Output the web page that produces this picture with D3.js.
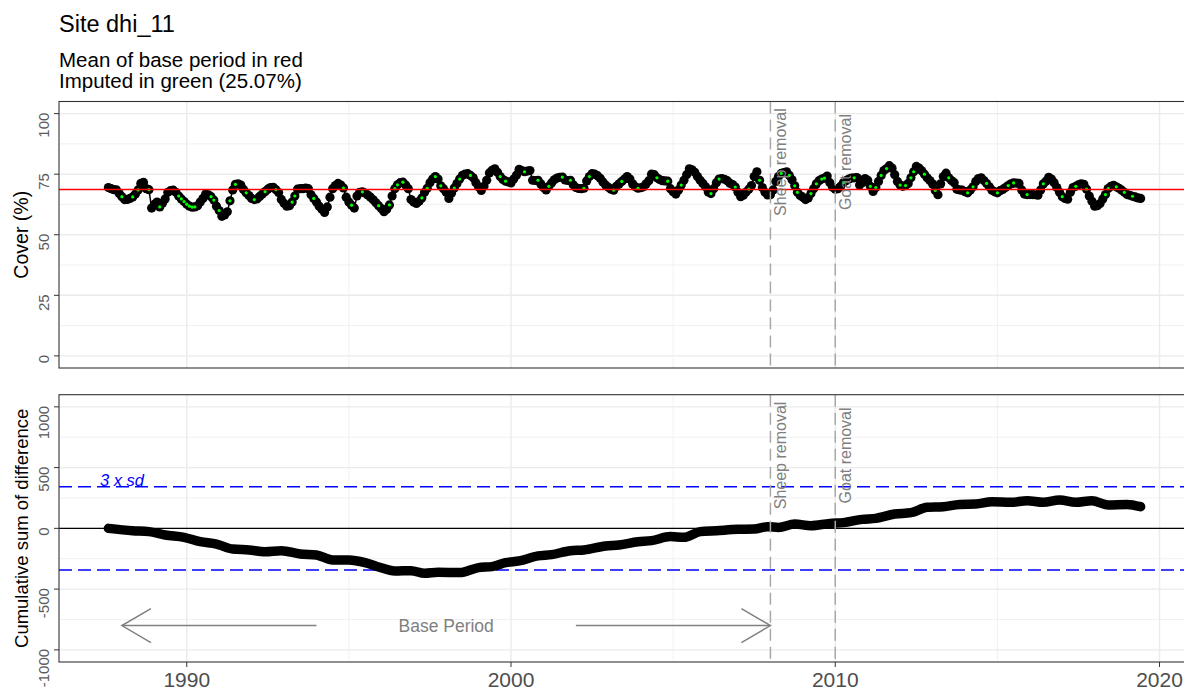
<!DOCTYPE html>
<html>
<head>
<meta charset="utf-8">
<script src="https://cdn.jsdelivr.net/npm/d3@7"></script>
<style>
  html, body { margin: 0; padding: 0; background: #fff; }
  svg { display: block; font-family: "Liberation Sans", Arial, sans-serif; }
</style>
</head>
<body>
<svg id="chart" width="1184" height="691"></svg>
<script>
// ---------------- data ----------------
const titleText = "Site dhi_11";
const subtitleLines = ["Mean of base period in red", "Imputed in green (25.07%)"];
const startYear = 1987, startMonth = 8; // first observation: Aug 1987, monthly
const cover = [
  69.5, 69.0, 68.6, 68.5, 67.0, 65.7, 64.5, 64.6, 65.0, 65.6, 66.8, 68.5,
  71.2, 71.6, 69.0, 68.6, 61.0, 62.5, 63.5, 61.5, 63.0, 64.8, 67.5, 68.2,
  68.4, 67.5, 66.0, 64.8, 63.7, 62.6, 61.8, 61.4, 61.5, 62.0, 63.5, 65.0,
  66.8, 66.5, 65.7, 64.3, 61.8, 60.0, 57.6, 58.2, 59.5, 64.0, 68.5, 70.8,
  71.0, 70.5, 68.7, 67.3, 66.2, 65.0, 64.5, 64.8, 65.8, 66.8, 67.8, 68.8,
  69.5, 69.6, 68.6, 67.4, 64.6, 63.0, 61.8, 62.0, 63.5, 66.0, 68.8, 69.0,
  69.0, 69.3, 69.0, 66.5, 65.0, 63.5, 61.8, 60.5, 59.2, 61.5, 65.5, 69.0,
  70.3, 71.2, 70.5, 69.3, 65.5, 63.5, 62.2, 61.0, 66.0, 67.5, 67.7, 67.2,
  66.4, 65.5, 64.4, 63.2, 62.0, 60.8, 59.5, 60.5, 62.3, 66.0, 69.0, 70.6,
  71.5, 71.7, 70.5, 69.0, 64.5, 63.5, 62.9, 63.8, 65.2, 67.5, 69.2, 71.5,
  73.0, 74.0, 73.0, 70.2, 69.0, 67.5, 65.0, 67.2, 69.3, 71.2, 73.0, 74.5,
  75.0, 75.2, 74.5, 73.5, 71.5, 69.8, 68.3, 70.0, 72.5, 75.5, 76.6, 77.2,
  75.8, 74.0, 72.8, 72.1, 71.8, 71.4, 73.0, 74.6, 77.0, 76.5, 76.0, 76.3,
  76.5, 72.5, 72.4, 72.5, 71.0, 69.5, 68.5, 70.0, 71.4, 72.7, 73.4, 73.7,
  73.8, 72.6, 72.4, 72.5, 70.6, 69.5, 69.1, 69.0, 69.2, 72.2, 74.0, 75.2,
  75.0, 74.4, 73.3, 71.8, 70.5, 69.6, 68.8, 68.4, 70.0, 71.0, 72.0, 73.0,
  74.0, 73.0, 71.0, 69.8, 69.2, 69.4, 69.8, 71.0, 72.3, 75.0, 74.8, 73.5,
  72.8, 72.3, 72.2, 72.1, 69.0, 67.7, 66.8, 68.5, 70.5, 72.5, 74.8, 77.2,
  76.8, 75.8, 74.0, 72.5, 71.2, 69.8, 67.6, 67.0, 69.0, 71.5, 73.0, 73.2,
  72.9, 72.3, 71.3, 70.7, 69.7, 67.5, 65.7, 66.3, 67.6, 68.8, 70.3, 74.0,
  76.0, 72.5, 69.5, 67.5, 66.4, 66.5, 68.5, 72.0, 74.0, 75.3, 75.7, 76.0,
  74.5, 72.7, 70.2, 67.5, 66.2, 65.5, 64.5, 65.2, 67.0, 69.0, 71.0, 72.3,
  73.0, 73.4, 74.2, 71.5, 69.6, 68.8, 69.0, 70.0, 71.5, 72.3, 73.0, 73.4,
  73.5, 73.6, 70.5, 71.5, 73.2, 72.5, 70.0, 67.9, 69.5, 72.0, 74.5, 76.5,
  77.3, 78.5, 77.5, 74.8, 72.0, 70.5, 70.0, 70.3, 71.2, 73.5, 76.0, 78.2,
  77.5, 76.4, 75.0, 73.5, 72.4, 71.0, 68.3, 66.5, 71.0, 74.0, 75.4, 73.5,
  72.4, 71.5, 68.8, 68.5, 68.4, 67.8, 67.3, 68.5, 69.8, 72.0, 73.2, 73.5,
  72.4, 71.2, 69.8, 68.4, 67.7, 67.3, 68.2, 68.7, 69.5, 70.3, 71.0, 71.4,
  71.3, 71.2, 68.5, 66.8, 66.6, 66.6, 66.6, 66.5, 66.3, 68.5, 71.0, 72.1,
  73.7, 73.0, 71.5, 69.5, 67.5, 65.7, 65.0, 64.7, 67.5, 69.5, 70.0, 70.6,
  71.0, 70.8, 68.8, 66.0, 63.8, 61.8, 62.0, 62.9, 64.8, 66.6, 69.1, 70.0,
  70.4, 69.8, 69.2, 68.4, 67.5, 66.6, 66.3, 65.9, 65.6, 65.2, 65.0
];
const imputedIdx = [5, 9, 11, 15, 19, 26, 27, 28, 29, 30, 31, 32, 38, 39, 41, 45, 47,
  51, 54, 58, 62, 68, 69, 76, 87, 90, 94, 100, 104, 106, 107, 109, 116, 118, 121, 123,
  128, 130, 134, 145, 147, 154, 159, 163, 168, 171, 176, 178, 187, 190, 196, 203, 207,
  212, 223, 226, 232, 237, 241, 249, 252, 254, 255, 260, 262, 264, 265, 272, 276, 282,
  284, 286, 288, 293, 295, 297, 298, 302, 306, 311, 318, 320, 325, 329, 333, 335, 340,
  346, 353, 358, 362, 369, 370, 373, 376, 379];
const baseMean = 68.7;
const sdLimit = 343;          // 3 x sd
const cusumIdx = [0, 9, 15, 21, 28, 34, 40, 46, 52, 58, 64, 71, 77, 83, 89, 95, 100, 106,
  112, 117, 122, 130, 137, 142, 147, 152, 159, 164, 171, 176, 184, 189, 196, 201, 208,
  213, 219, 225, 233, 239, 244, 248, 254, 260, 267, 272, 279, 284, 291, 297, 303, 309,
  315, 321, 327, 334, 340, 346, 352, 358, 364, 370, 377, 382];
const cusumVal = [0, -19, -27, -55, -74, -110, -129, -170, -178, -192, -184, -211, -219,
  -260, -260, -282, -318, -351, -348, -370, -362, -364, -323, -315, -282, -268, -227,
  -216, -184, -178, -145, -137, -110, -101, -68, -74, -27, -19, -8, -5, 14, 8, 36, 22,
  41, 47, 74, 82, 118, 129, 173, 178, 197, 200, 219, 214, 227, 214, 233, 214, 227, 192,
  197, 178];
const eventYears = [2008, 2010];
const eventLabels = ["Sheep removal", "Goat removal"];
const xTicks = [1990, 2000, 2010, 2020];
const xMinor = [1995, 2005, 2015];
const topTicks = [0, 25, 50, 75, 100];
const topMinor = [12.5, 37.5, 62.5, 87.5];
const botTicks = [-1000, -500, 0, 500, 1000];
const botMinor = [-750, -250, 250, 750];
const baseStart = 1988, baseEnd = 2008;
const baseLabel = "Base Period";
const baseLabelYear = 1998, baseArrowY = -800;
const leftArrowFrom = 1994, rightArrowFrom = 2002;
const sdLabel = "3 x sd";

// ---------------- layout ----------------
const svg = d3.select("#chart");
const W = 1184, H = 691;
svg.append("rect").attr("width", W).attr("height", H).attr("fill", "#fff");

const px0 = 59, px1 = 1190;
const panelT = {y0: 101.5, y1: 368};
const panelB = {y0: 394.7, y1: 662};

const x = d3.scaleLinear().domain([1986.06, 2020.94]).range([px0, px1]);
const yT = d3.scaleLinear().domain([-5, 105]).range([panelT.y1, panelT.y0]);
const yB = d3.scaleLinear().domain([-1100, 1100]).range([panelB.y1, panelB.y0]);

const tOf = i => startYear + (startMonth - 1 + i) / 12;
const pts = cover.map((v, i) => ({t: tOf(i), v, i}));
const impSet = new Set(imputedIdx);

const defs = svg.append("defs");
defs.append("clipPath").attr("id", "clipT").append("rect")
  .attr("x", px0).attr("y", panelT.y0).attr("width", px1 - px0).attr("height", panelT.y1 - panelT.y0);
defs.append("clipPath").attr("id", "clipB").append("rect")
  .attr("x", px0).attr("y", panelB.y0).attr("width", px1 - px0).attr("height", panelB.y1 - panelB.y0);

function grid(g, y, majors, minors, p) {
  g.selectAll(".gminY").data(minors).join("line")
    .attr("x1", px0).attr("x2", px1).attr("y1", d => y(d)).attr("y2", d => y(d))
    .attr("stroke", "#ebebeb").attr("stroke-width", 0.7);
  g.selectAll(".gminX").data(xMinor).join("line")
    .attr("x1", d => x(d)).attr("x2", d => x(d)).attr("y1", p.y0).attr("y2", p.y1)
    .attr("stroke", "#ebebeb").attr("stroke-width", 0.7);
  g.selectAll(".gmajY").data(majors).join("line")
    .attr("x1", px0).attr("x2", px1).attr("y1", d => y(d)).attr("y2", d => y(d))
    .attr("stroke", "#ebebeb").attr("stroke-width", 1.4);
  g.selectAll(".gmajX").data(xTicks).join("line")
    .attr("x1", d => x(d)).attr("x2", d => x(d)).attr("y1", p.y0).attr("y2", p.y1)
    .attr("stroke", "#ebebeb").attr("stroke-width", 1.4);
}

function yAxis(y, ticks) {
  const g = svg.append("g");
  g.selectAll("line").data(ticks).join("line")
    .attr("x1", px0 - 5).attr("x2", px0).attr("y1", d => y(d)).attr("y2", d => y(d))
    .attr("stroke", "#333").attr("stroke-width", 1);
  g.selectAll("text").data(ticks).join("text")
    .attr("transform", d => `translate(${48.5},${y(d) - 1}) rotate(-90)`)
    .attr("text-anchor", "end")
    .attr("font-size", 15).attr("fill", "#5a5a5a")
    .text(d => d);
}

function eventLines(g, p, ly) {
  eventYears.forEach((yr, k) => {
    g.append("line").attr("x1", x(yr)).attr("x2", x(yr)).attr("y1", p.y0).attr("y2", p.y1)
      .attr("stroke", "#a8a8a8").attr("stroke-width", 1.5).attr("stroke-dasharray", "12,6");
    g.append("text")
      .attr("transform", `translate(${x(yr) + 16},${ly}) rotate(-90)`)
      .attr("text-anchor", "middle").attr("font-size", 16).attr("fill", "#808080")
      .text(eventLabels[k]);
  });
}

// ---------------- top panel ----------------
const gT = svg.append("g");
grid(gT, yT, topTicks, topMinor, panelT);
const gTd = svg.append("g").attr("clip-path", "url(#clipT)");
gTd.append("path").datum(pts)
  .attr("d", d3.line().x(d => x(d.t)).y(d => yT(d.v)))
  .attr("fill", "none").attr("stroke", "#000").attr("stroke-width", 1.5);
gTd.selectAll(".pt").data(pts).join("circle")
  .attr("cx", d => x(d.t)).attr("cy", d => yT(d.v)).attr("r", 4.6).attr("fill", "#000");
gTd.selectAll(".imp").data(pts.filter(d => impSet.has(d.i))).join("circle")
  .attr("cx", d => x(d.t)).attr("cy", d => yT(d.v)).attr("r", 1.6).attr("fill", "#00ff00");
gTd.append("line").attr("x1", px0).attr("x2", px1).attr("y1", yT(baseMean)).attr("y2", yT(baseMean))
  .attr("stroke", "#ff0000").attr("stroke-width", 1.6);
eventLines(gTd, panelT, yT(80));
svg.append("rect").attr("x", px0).attr("y", panelT.y0).attr("width", px1 - px0).attr("height", panelT.y1 - panelT.y0)
  .attr("fill", "none").attr("stroke", "#333").attr("stroke-width", 1.1);
yAxis(yT, topTicks);

// ---------------- bottom panel ----------------
const gB = svg.append("g");
grid(gB, yB, botTicks, botMinor, panelB);
const gBd = svg.append("g").attr("clip-path", "url(#clipB)");
gBd.append("line").attr("x1", px0).attr("x2", px1).attr("y1", yB(0)).attr("y2", yB(0))
  .attr("stroke", "#000").attr("stroke-width", 1.3);
[sdLimit, -sdLimit].forEach(v => {
  gBd.append("line").attr("x1", px0).attr("x2", px1).attr("y1", yB(v)).attr("y2", yB(v))
    .attr("stroke", "#0000ff").attr("stroke-width", 1.6).attr("stroke-dasharray", "13,6");
});
const cus = cusumIdx.map((i, k) => ({t: tOf(i), c: cusumVal[k]}));
gBd.append("path").datum(cus)
  .attr("d", d3.line().curve(d3.curveMonotoneX).x(d => x(d.t)).y(d => yB(d.c)))
  .attr("fill", "none").attr("stroke", "#000").attr("stroke-width", 9.5)
  .attr("stroke-linecap", "round").attr("stroke-linejoin", "round");
eventLines(gBd, panelB, yB(600));
gBd.append("text").attr("x", x(1988)).attr("y", yB(sdLimit) - 1)
  .attr("text-anchor", "middle").attr("font-size", 16.5).attr("font-style", "italic")
  .attr("fill", "#0000ff").text(sdLabel);
function arrow(g, from, to) {
  const y = yB(baseArrowY), x0 = x(from), x1 = x(to);
  const dir = Math.sign(x1 - x0);
  g.append("line").attr("x1", x0).attr("x2", x1).attr("y1", y).attr("y2", y)
    .attr("stroke", "#808080").attr("stroke-width", 1.5);
  g.append("path")
    .attr("d", `M${x1 - dir * 29},${y - 17}L${x1},${y}L${x1 - dir * 29},${y + 17}`)
    .attr("fill", "none").attr("stroke", "#808080").attr("stroke-width", 1.5);
}
arrow(gBd, leftArrowFrom, baseStart);
arrow(gBd, rightArrowFrom, baseEnd);
gBd.append("text").attr("x", x(baseLabelYear)).attr("y", yB(baseArrowY) + 6.5)
  .attr("text-anchor", "middle").attr("font-size", 17.5).attr("fill", "#808080").text(baseLabel);
svg.append("rect").attr("x", px0).attr("y", panelB.y0).attr("width", px1 - px0).attr("height", panelB.y1 - panelB.y0)
  .attr("fill", "none").attr("stroke", "#333").attr("stroke-width", 1.1);
yAxis(yB, botTicks);

// x axis (bottom only)
const gx = svg.append("g");
gx.selectAll("line").data(xTicks).join("line")
  .attr("x1", d => x(d)).attr("x2", d => x(d)).attr("y1", panelB.y1).attr("y2", panelB.y1 + 5)
  .attr("stroke", "#333").attr("stroke-width", 1);
gx.selectAll("text").data(xTicks).join("text")
  .attr("x", d => x(d)).attr("y", 687)
  .attr("text-anchor", "middle").attr("font-size", 21).attr("fill", "#4d4d4d").text(d => d);

// axis titles
svg.append("text").attr("transform", `translate(28,${(panelT.y0 + panelT.y1) / 2}) rotate(-90)`)
  .attr("text-anchor", "middle").attr("font-size", 19.5).attr("fill", "#000").text("Cover (%)");
svg.append("text").attr("transform", `translate(28,${(panelB.y0 + panelB.y1) / 2}) rotate(-90)`)
  .attr("text-anchor", "middle").attr("font-size", 18.5).attr("fill", "#000").text("Cumulative sum of difference");

// titles
svg.append("text").attr("x", 59).attr("y", 32).attr("font-size", 23.5).attr("fill", "#000").text(titleText);
svg.selectAll(".sub").data(subtitleLines).join("text")
  .attr("x", 59).attr("y", (d, i) => 66.5 + i * 21.5)
  .attr("font-size", 20.5).attr("fill", "#000").text(d => d);
</script>
</body>
</html>
